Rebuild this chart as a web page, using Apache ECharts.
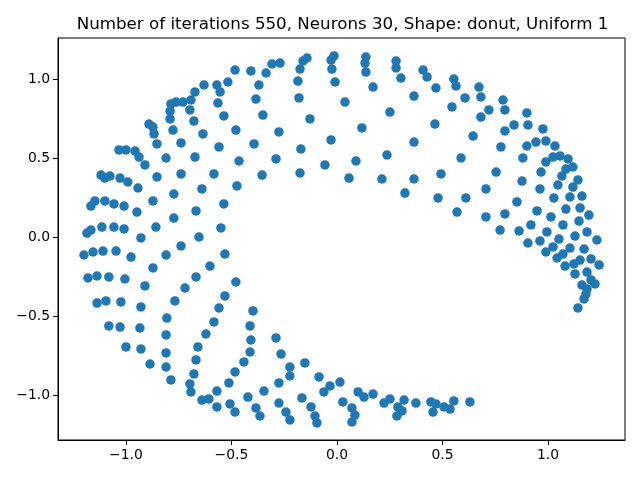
<!DOCTYPE html>
<html><head><meta charset="utf-8">
<script src="https://cdn.jsdelivr.net/npm/echarts@6/dist/echarts.min.js"></script>
<style>html,body{margin:0;padding:0;background:#fff}#c{width:640px;height:480px}</style>
</head><body><div id="c"></div>
<script>
const titleText = "Number of iterations 550, Neurons 30, Shape: donut, Uniform 1";
const xTicks = [-1.0, -0.5, 0.0, 0.5, 1.0];
const yTicks = [-1.0, -0.5, 0.0, 0.5, 1.0];
const xs = [
-0.673,-0.692,-0.730,-0.763,-0.787,-0.791,-0.697,-0.791,-0.678,-0.891,-0.872,-0.867,-0.777,-0.853,-0.739,-1.033,-1.000,-0.957,-0.938,-0.910,-0.810,-0.673,
-0.630,-0.569,-0.554,-0.564,-0.517,-0.483,-0.408,-0.336,-0.308,-0.270,-0.370,-0.384,-0.351,-0.536,-0.635,-0.479,-0.275,-0.559,-0.393,-0.464,-0.289,-0.175,-0.161,-0.142,-0.185,-0.180,-0.128,-0.171,-0.028,-0.057,-0.024,-0.028,-0.014,-0.009,0.038,
0.137,0.133,0.137,0.171,0.280,0.280,0.303,0.408,0.427,0.469,0.365,0.251,0.118,0.554,0.564,0.607,0.545,0.673,0.682,0.682,0.464,0.645,0.365,0.237,0.090,0.588,
0.787,0.720,0.796,0.900,0.905,0.839,0.796,0.976,0.990,0.943,0.900,0.777,1.033,0.881,1.024,1.057,1.095,0.990,1.085,1.118,
-1.118,-1.100,-1.076,-1.028,-0.991,-0.943,-0.853,-0.739,-0.773,-0.872,-1.147,-1.166,-1.100,-1.057,-1.009,-0.948,-0.668,-0.640,-0.773,-0.858,-1.185,-1.166,-1.114,-1.057,-1.009,-0.929,-0.654,-1.199,-1.156,-1.109,-1.047,-0.976,-0.810,-0.739,-0.872,-1.180,-1.137,-1.081,-1.005,-0.910,-0.668,-0.720,-0.768,-1.137,-1.095,-1.024,-0.929,
-0.583,-0.355,-0.175,-0.474,-0.536,-0.550,-0.531,-0.602,-0.479,-0.531,-0.559,
0.057,0.213,0.365,0.493,0.322,0.479,0.611,0.569,0.706,0.706,
0.754,0.967,1.066,1.142,0.877,0.962,1.047,1.118,1.028,1.104,1.161,0.853,1.085,1.152,0.948,1.194,0.796,1.014,1.147,1.071,0.919,0.773,0.863,0.995,1.185,1.128,1.052,1.232,0.962,0.905,1.024,1.104,1.171,0.990,1.071,1.043,1.152,1.204,1.123,1.242,1.081,1.185,1.128,1.204,1.161,1.223,1.185,1.180,1.171,1.142,
-0.806,-1.081,-1.028,-0.934,-0.810,-1.000,-0.929,-0.810,-0.886,-0.810,-0.787,-0.697,-0.692,-0.659,-0.668,-0.678,-0.640,
-0.398,-0.583,-0.412,-0.621,-0.408,-0.289,-0.412,-0.441,-0.265,-0.223,-0.152,-0.483,-0.223,-0.085,-0.512,-0.275,0.014,-0.033,-0.062,-0.569,-0.346,-0.422,-0.166,-0.607,-0.275,0.028,-0.569,-0.507,-0.384,-0.242,-0.123,-0.483,-0.365,-0.223,-0.104,-0.095,
0.100,0.128,0.171,0.071,0.085,0.071,0.223,0.251,0.318,0.289,0.308,0.284,0.374,0.445,0.469,0.455,0.507,0.536,0.554,0.630
];
const ys = [
0.918,0.867,0.854,0.854,0.842,0.797,0.804,0.747,0.734,0.715,0.696,0.652,0.677,0.589,0.595,0.551,0.551,0.544,0.506,0.456,0.500,0.506,
0.962,0.962,0.918,0.848,0.981,1.057,1.051,1.038,1.095,1.101,0.962,0.873,0.772,0.766,0.652,0.677,0.665,0.570,0.589,0.481,0.494,1.063,1.114,1.133,0.987,0.880,0.747,0.557,0.614,0.456,1.063,1.120,1.146,0.981,0.854,
1.139,1.101,1.044,0.949,1.114,1.070,1.006,1.057,1.013,0.943,0.892,0.791,0.690,1.000,0.956,0.880,0.823,0.949,0.886,0.759,0.715,0.639,0.601,0.519,0.481,0.500,
0.867,0.804,0.804,0.785,0.709,0.709,0.671,0.684,0.608,0.601,0.576,0.570,0.576,0.500,0.506,0.513,0.494,0.475,0.430,0.443,
0.392,0.373,0.386,0.373,0.348,0.310,0.380,0.399,0.272,0.228,0.228,0.196,0.228,0.209,0.196,0.158,0.165,0.304,0.120,0.063,0.025,0.044,0.063,0.063,0.051,-0.006,0.000,-0.114,-0.095,-0.089,-0.089,-0.127,-0.114,-0.057,-0.196,-0.259,-0.247,-0.253,-0.266,-0.310,-0.253,-0.323,-0.405,-0.418,-0.405,-0.411,-0.443,
0.399,0.392,0.405,0.323,0.209,0.057,-0.108,-0.184,-0.285,-0.373,-0.449,
0.373,0.367,0.367,0.399,0.278,0.247,0.247,0.158,0.304,0.127,
0.411,0.411,0.386,0.361,0.354,0.304,0.329,0.316,0.247,0.253,0.259,0.222,0.177,0.184,0.165,0.139,0.146,0.127,0.101,0.076,0.076,0.044,0.038,0.032,0.032,0.006,-0.013,-0.019,-0.025,-0.038,-0.063,-0.070,-0.076,-0.095,-0.108,-0.133,-0.146,-0.139,-0.171,-0.177,-0.184,-0.222,-0.234,-0.272,-0.304,-0.297,-0.329,-0.361,-0.392,-0.449,
-0.513,-0.563,-0.570,-0.576,-0.620,-0.696,-0.709,-0.734,-0.804,-0.823,-0.905,-0.930,-0.981,-0.696,-0.778,-0.867,-1.032,
-0.468,-0.538,-0.563,-0.614,-0.652,-0.639,-0.728,-0.791,-0.741,-0.823,-0.797,-0.854,-0.880,-0.886,-0.924,-0.924,-0.918,-0.943,-0.981,-0.975,-0.975,-1.013,-1.019,-1.025,-1.051,-1.044,-1.076,-1.057,-1.082,-1.108,-1.076,-1.108,-1.133,-1.158,-1.133,-1.177,
-0.981,-1.013,-0.994,-1.082,-1.127,-1.171,-1.051,-1.025,-1.032,-1.076,-1.101,-1.133,-1.051,-1.044,-1.057,-1.108,-1.076,-1.089,-1.038,-1.044
];

const points = xs.map((x, i) => [x, ys[i]]);
const fmt = v => (v < 0 ? '\u2212' : '') + Math.abs(v).toFixed(1);
const fontFamily = 'DejaVu Sans';

const chart = echarts.init(document.getElementById('c'), null, {renderer: 'canvas'});
chart.setOption({
  animation: false,
  backgroundColor: '#fff',
  title: {
    text: titleText,
    left: 337.5,
    textAlign: 'center',
    top: 11,
    textStyle: {fontFamily, fontSize: 16.7, fontWeight: 'normal', color: '#000'}
  },
  grid: {left: 58, right: 15, top: 38, bottom: 40, show: true, borderColor: '#000', borderWidth: 1, containLabel: false},
  xAxis: {
    type: 'value', min: -1.322, max: 1.365,
    splitLine: {show: false},
    axisLine: {show: true, onZero: false, lineStyle: {color: '#000', width: 1}},
    axisTick: {show: true, inside: false, length: 5, lineStyle: {color: '#000'}, customValues: xTicks},
    axisLabel: {color: '#000', fontFamily, fontSize: 13.9, margin: 8, customValues: xTicks, formatter: fmt}
  },
  yAxis: {
    type: 'value', min: -1.285, max: 1.2595,
    splitLine: {show: false},
    axisLine: {show: true, onZero: false, lineStyle: {color: '#000', width: 1}},
    axisTick: {show: true, inside: false, length: 5, lineStyle: {color: '#000'}, customValues: yTicks},
    axisLabel: {color: '#000', fontFamily, fontSize: 13.9, margin: 8, customValues: yTicks, formatter: fmt}
  },
  series: [{
    type: 'scatter',
    data: points,
    symbol: 'circle',
    symbolSize: 9.5,
    itemStyle: {color: '#1f77b4', opacity: 1},
    silent: true
  }]
});
</script>
</body></html>
